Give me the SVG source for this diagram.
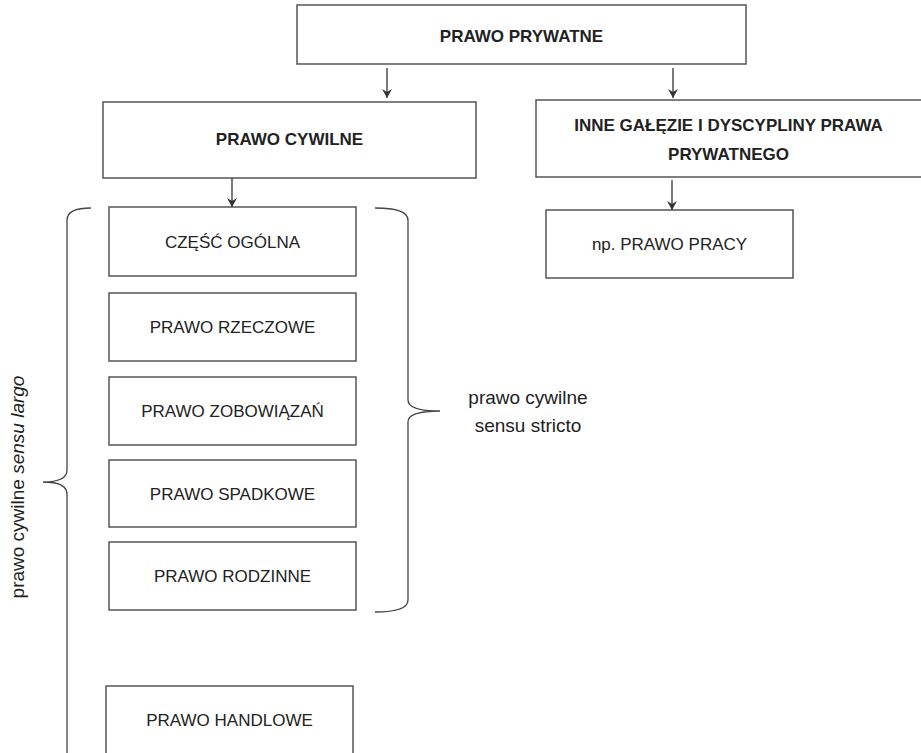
<svg xmlns="http://www.w3.org/2000/svg" width="921" height="753" viewBox="0 0 921 753">
<defs>
<marker id="ah" markerWidth="12" markerHeight="12" refX="10" refY="6" orient="auto" markerUnits="userSpaceOnUse" viewBox="0 0 12 12">
<path d="M1,1 L10,6 L1,11 L4,6 Z" fill="#333"/>
</marker>
</defs>
<style>
.box{fill:#fff;stroke:#555;stroke-width:1.5}
.t{font-family:'Liberation Sans',Arial,sans-serif;font-size:17px;fill:#222;text-anchor:middle}
.b{font-weight:bold}
.l{font-size:19px}
.c{fill:none;stroke:#333;stroke-width:1.3}
.br{fill:none;stroke:#444;stroke-width:1.3}
</style>
<rect width="921" height="753" fill="#fff"/>
<g id="prawo-prywatne"><rect class="box" x="297" y="5" width="449" height="59"/><text class="t b" x="521.5" y="42">PRAWO PRYWATNE</text></g>
<g id="prawo-cywilne"><rect class="box" x="103" y="102" width="373" height="76"/><text class="t b" x="289.5" y="145">PRAWO CYWILNE</text></g>
<g id="inne"><rect class="box" x="536" y="100" width="390" height="77"/><text class="t b" x="728.5" y="131">INNE GAŁĘZIE I DYSCYPLINY PRAWA</text><text class="t b" x="728.5" y="160">PRYWATNEGO</text></g>
<g id="prawo-pracy"><rect class="box" x="546" y="210" width="247" height="68"/><text class="t" x="669.5" y="250">np. PRAWO PRACY</text></g>
<g id="czesc-ogolna"><rect class="box" x="109" y="207" width="247" height="69"/><text class="t" x="232.5" y="248">CZĘŚĆ OGÓLNA</text></g>
<g id="prawo-rzeczowe"><rect class="box" x="109" y="293" width="247" height="68"/><text class="t" x="232.5" y="333">PRAWO RZECZOWE</text></g>
<g id="prawo-zobowiazan"><rect class="box" x="109" y="377" width="247" height="68"/><text class="t" x="232.5" y="417">PRAWO ZOBOWIĄZAŃ</text></g>
<g id="prawo-spadkowe"><rect class="box" x="109" y="460" width="247" height="67"/><text class="t" x="232.5" y="500">PRAWO SPADKOWE</text></g>
<g id="prawo-rodzinne"><rect class="box" x="109" y="542" width="247" height="68"/><text class="t" x="232.5" y="582">PRAWO RODZINNE</text></g>
<g id="prawo-handlowe"><rect class="box" x="106" y="686" width="247" height="80"/><text class="t" x="229.5" y="726">PRAWO HANDLOWE</text></g>
<g id="brace-stricto"><path class="br" d="M375,208 Q408,208 408,220 L408,400 Q408,411 440,411 Q408,411 408,422 L408,600 Q408,612 375,612"/><text class="t l" x="528" y="404">prawo cywilne</text><text class="t l" x="528" y="432">sensu stricto</text></g>
<g id="brace-largo"><path class="br" d="M91,208 Q67,208 67,220 L67,470 Q67,482 43,482 Q67,482 67,494 L67,760"/><text class="t l" transform="translate(24,487) rotate(-90)">prawo cywilne <tspan font-style="italic">sensu largo</tspan></text></g>
<g id="connectors">
<line class="c" x1="387" y1="68" x2="387" y2="98" marker-end="url(#ah)"/>
<line class="c" x1="673" y1="68" x2="673" y2="98" marker-end="url(#ah)"/>
<line class="c" x1="232" y1="178" x2="232" y2="207" marker-end="url(#ah)"/>
<line class="c" x1="672" y1="180" x2="672" y2="210" marker-end="url(#ah)"/>
</g>
</svg>
